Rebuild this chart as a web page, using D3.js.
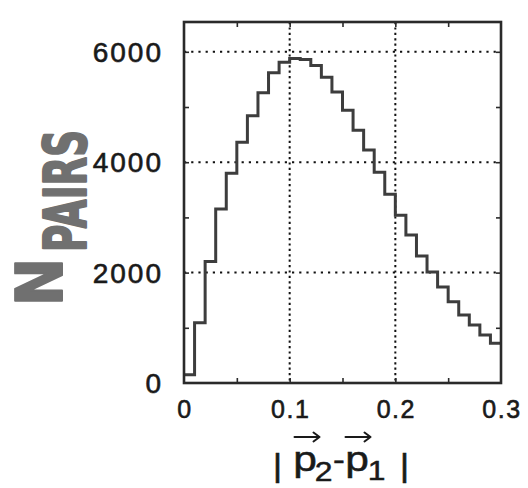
<!DOCTYPE html>
<html>
<head>
<meta charset="utf-8">
<script src="https://cdn.jsdelivr.net/npm/d3@7"></script>
<style>
  html, body { margin: 0; padding: 0; background: #fff; }
  svg { display: block; }
</style>
</head>
<body>
<svg id="chart" width="528" height="488"></svg>
<script>
// Pair-momentum-difference histogram, bins of width 0.01
const binLow = [0.00, 0.01, 0.02, 0.03, 0.04, 0.05, 0.06, 0.07, 0.08, 0.09,
                0.10, 0.11, 0.12, 0.13, 0.14, 0.15, 0.16, 0.17, 0.18, 0.19,
                0.20, 0.21, 0.22, 0.23, 0.24, 0.25, 0.26, 0.27, 0.28, 0.29];
const binHigh = 0.30;
const pairCounts = [150, 1090, 2200, 3150, 3800, 4360, 4840, 5260, 5620, 5810,
                    5880, 5860, 5750, 5540, 5270, 4940, 4580, 4220, 3820, 3420,
                    3040, 2680, 2300, 2010, 1740, 1470, 1230, 1050, 870, 720];

const xTickValues = [0, 0.1, 0.2, 0.3];
const xTickLabels = ["0", "0.1", "0.2", "0.3"];
const xMinorTicks = [0.05, 0.1, 0.15, 0.2, 0.25];
const yTickValues = [0, 2000, 4000, 6000];
const yTickLabels = ["0", "2000", "4000", "6000"];
const yMinorTicks = [1000, 2000, 3000, 4000, 5000, 6000];
const xGrid = [0.1, 0.2];
const yGrid = [2000, 4000, 6000];

const svg = d3.select("#chart");
const plot = { left: 184, right: 501, top: 22, bottom: 383 };

const x = d3.scaleLinear().domain([0, 0.3]).range([plot.left, plot.right]);
const y = d3.scaleLinear().domain([0, 6540]).range([plot.bottom, plot.top]);

const ink = "#2a2a2a";

// dotted grid
svg.append("g").selectAll("line").data(yGrid).join("line")
  .attr("x1", plot.left).attr("x2", plot.right)
  .attr("y1", d => y(d)).attr("y2", d => y(d))
  .attr("stroke", "#111").attr("stroke-width", 2)
  .attr("stroke-dasharray", "2.2,5");
svg.append("g").selectAll("line").data(xGrid).join("line")
  .attr("x1", d => x(d)).attr("x2", d => x(d))
  .attr("y1", plot.top).attr("y2", plot.bottom)
  .attr("stroke", "#111").attr("stroke-width", 2)
  .attr("stroke-dasharray", "2.2,3.2");

// inward ticks on all four sides
const tickLen = 5;
const axB = d3.axisBottom(x).tickValues(xMinorTicks).tickSize(tickLen).tickFormat("");
const axT = d3.axisTop(x).tickValues(xMinorTicks).tickSize(tickLen).tickFormat("");
const axL = d3.axisLeft(y).tickValues(yMinorTicks).tickSize(tickLen).tickFormat("");
const axR = d3.axisRight(y).tickValues(yMinorTicks).tickSize(tickLen).tickFormat("");
svg.append("g").attr("transform", `translate(0,${plot.bottom - tickLen})`).call(axB);
svg.append("g").attr("transform", `translate(0,${plot.top + tickLen})`).call(axT);
svg.append("g").attr("transform", `translate(${plot.left + tickLen},0)`).call(axL);
svg.append("g").attr("transform", `translate(${plot.right - tickLen},0)`).call(axR);
svg.selectAll(".domain").remove();
svg.selectAll(".tick line").attr("stroke", ink).attr("stroke-width", 1.6);

// histogram outline
const steps = binLow.map((b, i) => [b, pairCounts[i]]);
steps.push([binHigh, pairCounts[pairCounts.length - 1]]);
const stepLine = d3.line().x(d => x(d[0])).y(d => y(d[1])).curve(d3.curveStepAfter);
svg.append("path").attr("d", stepLine(steps))
  .attr("fill", "none").attr("stroke", "#3d3d3d").attr("stroke-width", 3)
  .attr("stroke-linejoin", "miter");

// frame
svg.append("rect")
  .attr("x", plot.left).attr("y", plot.top)
  .attr("width", plot.right - plot.left).attr("height", plot.bottom - plot.top)
  .attr("fill", "none").attr("stroke", ink).attr("stroke-width", 2.6);

// tick labels
svg.append("g").selectAll("text").data(yTickValues).join("text")
  .attr("x", 163).attr("y", d => y(d) + 10)
  .attr("text-anchor", "end")
  .attr("font-family", "'Liberation Sans', Arial, sans-serif")
  .attr("font-size", 28).attr("letter-spacing", 2)
  .attr("fill", "#1a1a1a").attr("stroke", "#1a1a1a").attr("stroke-width", 0.6)
  .text((d, i) => yTickLabels[i]);

svg.append("g").selectAll("text").data(xTickValues).join("text")
  .attr("x", d => x(d) + 1).attr("y", 418)
  .attr("text-anchor", "middle")
  .attr("font-family", "'Liberation Sans', Arial, sans-serif")
  .attr("font-size", 25).attr("letter-spacing", 1.5)
  .attr("fill", "#1a1a1a").attr("stroke", "#1a1a1a").attr("stroke-width", 0.6)
  .text((d, i) => xTickLabels[i]);

// x-axis title: | p2 - p1 | with vector arrows
const cx = (plot.left + plot.right) / 2;
const title = svg.append("g")
  .attr("font-family", "'Liberation Sans', Arial, sans-serif")
  .attr("fill", "#1a1a1a").attr("stroke", "#1a1a1a").attr("stroke-width", 0.5)
  .attr("text-anchor", "middle");
const parts = [
  { t: "|", dx: -65, y: 476, s: 31 },
  { t: "p", dx: -37.5, y: 471, s: 36 },
  { t: "2", dx: -19, y: 481, s: 27 },
  { t: "-", dx: -3.5, y: 470, s: 30 },
  { t: "p", dx: 14.5, y: 471, s: 36 },
  { t: "1", dx: 34, y: 480, s: 27 },
  { t: "|", dx: 62, y: 476, s: 31 }
];
title.selectAll("text.part").data(parts).join("text")
  .attr("class", "part")
  .attr("x", d => cx + d.dx).attr("y", d => d.y)
  .attr("font-size", d => d.s)
  .attr("transform", d => `translate(${cx + d.dx},0) scale(1.18,1) translate(${-(cx + d.dx)},0)`)
  .text(d => d.t);

// vector arrows over the two p's
const arrowCentres = [-35.5, 15.5];
const arrows = svg.append("g").attr("fill", "none").attr("stroke", "#1a1a1a")
  .attr("stroke-width", 2).attr("stroke-linecap", "round").attr("stroke-linejoin", "round");
arrows.selectAll("path").data(arrowCentres).join("path")
  .attr("d", d => {
    const a = cx + d - 12.5, b = cx + d + 12.5, yy = 437;
    return `M${a},${yy}H${b}M${b - 6},${yy - 4.5}L${b},${yy}L${b - 6},${yy + 4.5}`;
  });

// handwritten y-axis label
const hand = svg.append("g")
  .attr("font-family", "'DejaVu Sans', sans-serif")
  .attr("font-weight", "bold")
  .attr("fill", "#707070").attr("stroke", "#707070")
  .attr("stroke-width", 2).attr("stroke-linejoin", "round");
hand.append("text")
  .attr("transform", "translate(62,306) rotate(-90)")
  .attr("font-size", 64)
  .attr("textLength", 48).attr("lengthAdjust", "spacingAndGlyphs")
  .text("N");
hand.append("text")
  .attr("transform", "translate(86,252) rotate(-90)")
  .attr("font-size", 58)
  .attr("textLength", 122).attr("lengthAdjust", "spacingAndGlyphs")
  .text("PAIRS");
</script>
</body>
</html>
